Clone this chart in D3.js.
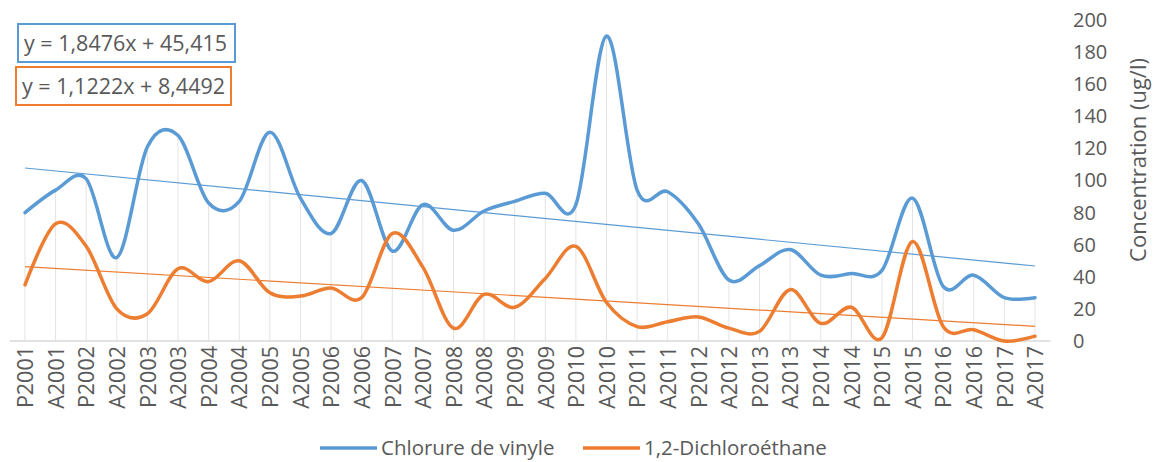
<!DOCTYPE html>
<meta charset="utf-8">
<style>
body { margin: 0; background: #fff; }
.chart text { fill: #595959; font-family: "Open Sans", sans-serif; }
.yaxis .tick text { font-size: 20px; }
.xaxis .tick text { font-size: 21.5px; }
.drop { stroke: #e3e3e3; stroke-width: 1; }
.series { fill: none; stroke-width: 3.5; stroke-linejoin: round; stroke-linecap: round; }
.trend { stroke-width: 1.2; }
.eq rect { fill: #fff; stroke-width: 2; }
.eq text { font-size: 21.5px; }
.legend text { font-size: 20.5px; }
</style>
<svg class="chart"></svg>
<script src="https://cdn.jsdelivr.net/npm/d3@7"></script>
<script>

var categories = ["P2001","A2001","P2002","A2002","P2003","A2003","P2004","A2004","P2005","A2005",
	"P2006","A2006","P2007","A2007","P2008","A2008","P2009","A2009","P2010","A2010",
	"P2011","A2011","P2012","A2012","P2013","A2013","P2014","A2014","P2015","A2015",
	"P2016","A2016","P2017","A2017"];

var chlorure = [80, 94, 101, 52, 121, 128, 86, 87, 130, 89,
	67, 100, 56, 85, 69, 81, 87, 92, 85, 190,
	94, 93, 73, 38, 47, 57, 41, 42, 44, 89,
	34, 41, 27, 27];

var dichloro = [35, 73, 59, 20, 17, 45, 37, 50, 30, 28,
	33, 27, 67, 46, 8, 29, 21, 39, 59, 24,
	9, 12, 15, 8, 6, 32, 11, 21, 2, 62,
	9, 7, 0, 3];

var yTicks = [0, 20, 40, 60, 80, 100, 120, 140, 160, 180, 200];

var seriesNames = ["Chlorure de vinyle", "1,2-Dichloroéthane"];
var equations = ["y = 1,8476x + 45,415", "y = 1,1222x + 8,4492"];

var BLUE = "#5b9bd5", ORANGE = "#ed7d31";
var colors = [BLUE, ORANGE];
var series = [chlorure, dichloro];

var width = 1157, height = 462;
var PLOT_L = 9.7, PLOT_R = 1050.3, PLOT_T = 20, PLOT_B = 341;

var svg = d3.select(".chart")
	.attr("width", width)
	.attr("height", height);

var x = d3.scalePoint()
	.domain(categories)
	.range([PLOT_L, PLOT_R])
	.padding(0.5);

var y = d3.scaleLinear()
	.domain([0, 200])
	.range([PLOT_B, PLOT_T]);

// drop lines
svg.append("g").selectAll("line")
	.data(categories)
	.enter().append("line")
	.attr("class", "drop")
	.attr("x1", function(d) { return x(d); })
	.attr("x2", function(d) { return x(d); })
	.attr("y1", function(d, i) { return y(Math.max(chlorure[i], dichloro[i])); })
	.attr("y2", PLOT_B);

// x axis
var xAxis = svg.append("g")
	.attr("class", "xaxis")
	.attr("transform", "translate(0," + PLOT_B + ")")
	.call(d3.axisBottom(x).tickSize(0).tickPadding(0));
xAxis.select(".domain").attr("stroke", "#d9d9d9").attr("stroke-width", 1.5)
	.attr("d", "M" + PLOT_L + ",0H" + PLOT_R);
xAxis.selectAll(".tick text")
	.attr("transform", "rotate(-90)")
	.attr("text-anchor", "end")
	.attr("x", -5)
	.attr("y", 0)
	.attr("dy", "0.36em");

// y axis on the right
var yAxis = svg.append("g")
	.attr("class", "yaxis")
	.attr("transform", "translate(1073,0)")
	.call(d3.axisRight(y).tickValues(yTicks).tickSize(0).tickPadding(0));
yAxis.select(".domain").remove();

svg.append("text")
	.attr("transform", "translate(1146," + 160 + ") rotate(-90)")
	.attr("text-anchor", "middle")
	.style("font-size", "22px")
	.text("Concentration (ug/l)");

// trend lines (least squares on index)
function fit(vals) {
	var n = vals.length, sx = 0, sy = 0, sxy = 0, sxx = 0;
	vals.forEach(function(v, i) { sx += i; sy += v; sxy += i * v; sxx += i * i; });
	var b = (n * sxy - sx * sy) / (n * sxx - sx * sx);
	var a = (sy - b * sx) / n;
	return function(i) { return a + b * i; };
}

series.forEach(function(vals, k) {
	var f = fit(vals);
	var last = categories.length - 1;
	svg.append("line")
		.attr("class", "trend")
		.attr("stroke", colors[k])
		.attr("x1", x(categories[0]))
		.attr("y1", y(f(0)))
		.attr("x2", x(categories[last]))
		.attr("y2", y(f(last)));
});

var line = d3.line()
	.x(function(d, i) { return x(categories[i]); })
	.y(function(d) { return y(d); })
	.curve(d3.curveCardinal.tension(0));

series.forEach(function(vals, k) {
	svg.append("path")
		.datum(vals)
		.attr("class", "series")
		.attr("stroke", colors[k])
		.attr("d", line);
});

// equation boxes
var eq = svg.selectAll("g.eq").data(equations)
	.enter().append("g")
	.attr("class", "eq")
	.attr("transform", function(d, i) { return "translate(" + (i ? 16 : 18) + "," + (i ? 67 : 24) + ")"; });

eq.append("rect")
	.attr("width", function(d, i) { return i ? 215 : 217; })
	.attr("height", 38)
	.attr("stroke", function(d, i) { return colors[i]; });

eq.append("text")
	.attr("x", 6)
	.attr("y", 19)
	.attr("dy", "0.36em")
	.text(function(d) { return d; });

// legend
var legend = svg.selectAll("g.legend").data(seriesNames)
	.enter().append("g")
	.attr("class", "legend")
	.attr("transform", function(d, i) { return "translate(" + (i ? 583 : 320) + ",448)"; });

legend.append("line")
	.attr("x1", 0).attr("x2", 57)
	.attr("stroke", function(d, i) { return colors[i]; })
	.attr("stroke-width", 3.5);

legend.append("text")
	.attr("x", 61)
	.attr("dy", "0.36em")
	.text(function(d) { return d; });

</script>
